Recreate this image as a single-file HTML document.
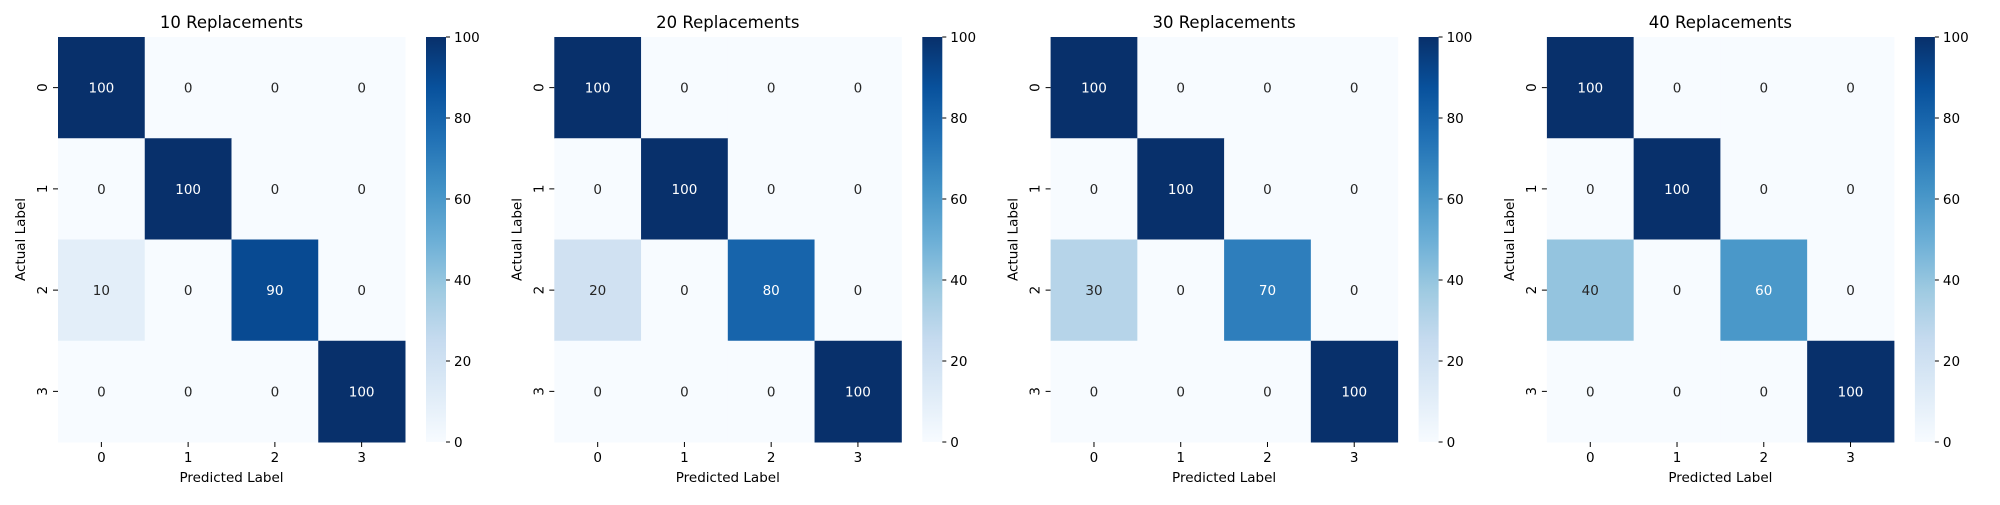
<!DOCTYPE html>
<html><head><meta charset="utf-8"><style>
html,body{margin:0;padding:0;background:#fff;}
svg text{font-family:"DejaVu Sans","Liberation Sans",sans-serif;fill:#000;}
</style></head><body>
<svg id="chart" width="2000" height="500" viewBox="0 0 2000 500" xmlns="http://www.w3.org/2000/svg">
<defs>
<linearGradient id="blues" x1="0" y1="1" x2="0" y2="0">
<stop offset="0" stop-color="#f7fbff"/><stop offset="0.125" stop-color="#deebf7"/><stop offset="0.25" stop-color="#c6dbef"/><stop offset="0.375" stop-color="#9ecae1"/><stop offset="0.5" stop-color="#6baed6"/><stop offset="0.625" stop-color="#4292c6"/><stop offset="0.75" stop-color="#2171b5"/><stop offset="0.875" stop-color="#08519c"/><stop offset="1" stop-color="#08306b"/>
</linearGradient>
</defs>
</svg>
<script>
const titles = ["10 Replacements","20 Replacements","30 Replacements","40 Replacements"];
const classLabels = ["0","1","2","3"];
const matrix10 = [[100,0,0,0],[0,100,0,0],[10,0,90,0],[0,0,0,100]];
const matrix20 = [[100,0,0,0],[0,100,0,0],[20,0,80,0],[0,0,0,100]];
const matrix30 = [[100,0,0,0],[0,100,0,0],[30,0,70,0],[0,0,0,100]];
const matrix40 = [[100,0,0,0],[0,100,0,0],[40,0,60,0],[0,0,0,100]];
const colorbarTicks = [0,20,40,60,80,100];
const vmin = 0, vmax = 100;

const matrices = [matrix10, matrix20, matrix30, matrix40];
const svg = document.getElementById('chart');
const NS = 'http://www.w3.org/2000/svg';
const stops = [[247,251,255],[222,235,247],[198,219,239],[158,202,225],[107,174,214],[66,146,198],[33,113,181],[8,81,156],[8,48,107]];
function blues(v){
  let t = Math.max(0, Math.min(1, (v - vmin) / (vmax - vmin))) * 8;
  let i = Math.min(7, Math.floor(t)), f = t - i;
  const c = stops[i].map((a, k) => Math.round(a + (stops[i+1][k] - a) * f));
  return c;
}
function mk(tag, attrs, parent){
  const e = document.createElementNS(NS, tag);
  for (const k in attrs) e.setAttribute(k, attrs[k]);
  (parent || svg).appendChild(e);
  return e;
}
const panelStep = 496.3, hx0 = 58, hy0 = 37, hw = 347, hh = 405;
const cbX = 426, cbW = 20;
matrices.forEach((m, p) => {
  const ox = p * panelStep;
  const g = mk('g', {});
  
  
  const x0 = hx0 + ox;
  const cw = hw / classLabels.length, ch = hh / classLabels.length;
  const xScale = j => x0 + j * cw;
  const yScale = i => hy0 + i * ch;
  const t = mk('text', {x: x0 + hw/2, y: 28, 'font-size': 16.5, 'text-anchor': 'middle'}, g);
  t.textContent = titles[p];
  
  
  m.forEach((row, i) => row.forEach((v, j) => {
    const c = blues(v);
    const r = mk('rect', {x: xScale(j), y: yScale(i), width: cw + 0.5, height: ch + 0.5, fill: `rgb(${c[0]},${c[1]},${c[2]})`}, g);
    
    
    const lum = 0.2126*c[0] + 0.7152*c[1] + 0.0722*c[2];
    const tx = mk('text', {x: xScale(j) + cw/2, y: yScale(i) + ch/2 + 5, 'font-size': 13.5, 'text-anchor': 'middle', style: 'fill:' + (lum < 140 ? '#fff' : '#262626')}, g);
    tx.textContent = v;
    
    
  }));
  classLabels.forEach((lab, k) => {
    const cx = xScale(k) + cw/2, cy = yScale(k) + ch/2;
    mk('line', {x1: cx, y1: hy0 + hh, x2: cx, y2: hy0 + hh + 5, stroke: '#000', 'stroke-width': 1}, g);
    const xl = mk('text', {x: cx, y: hy0 + hh + 20, 'font-size': 13.5, 'text-anchor': 'middle'}, g);
    xl.textContent = lab;
    
    
    mk('line', {x1: x0 - 5, y1: cy, x2: x0, y2: cy, stroke: '#000', 'stroke-width': 1}, g);
    const yl = mk('text', {x: x0 - 11, y: cy, 'font-size': 13.5, 'text-anchor': 'middle', transform: `rotate(-90 ${x0-11} ${cy})`, dy: 0}, g);
    yl.textContent = lab;
    
    
  });
  const xt = mk('text', {x: x0 + hw/2, y: 482, 'font-size': 13.5, 'text-anchor': 'middle'}, g);
  xt.textContent = 'Predicted Label';
  
  
  const yx = x0 - 33, yy = hy0 + hh/2;
  const yt = mk('text', {x: yx, y: yy, 'font-size': 13.5, 'text-anchor': 'middle', transform: `rotate(-90 ${yx} ${yy})`}, g);
  yt.textContent = 'Actual Label';
  
  
  const cbx = cbX + ox;
  const cb = mk('rect', {x: cbx, y: hy0, width: cbW, height: hh, fill: 'url(#blues)'}, g);
  
  
  colorbarTicks.forEach(v => {
    const ty = hy0 + hh - (v - vmin) / (vmax - vmin) * hh;
    mk('line', {x1: cbx + cbW, y1: ty, x2: cbx + cbW + 4, y2: ty, stroke: '#000', 'stroke-width': 1}, g);
    const tl = mk('text', {x: cbx + cbW + 8, y: ty + 5, 'font-size': 13.5}, g);
    tl.textContent = v;
    
    
  });
});
</script>
</body></html>
